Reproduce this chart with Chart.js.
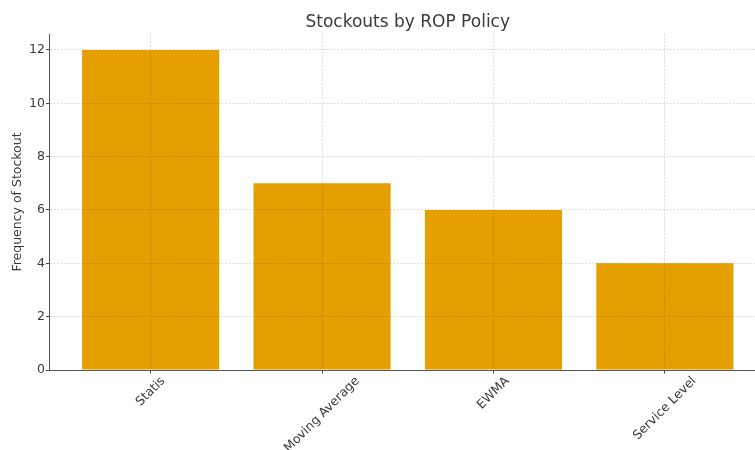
<!DOCTYPE html>
<html>
<head>
<meta charset="utf-8">
<script src="https://cdn.jsdelivr.net/npm/chart.js@4.4.1/dist/chart.umd.min.js"></script>
<style>
    html, body { margin: 0; padding: 0; background: #fff; overflow: hidden; }
    #wrap { width: 775px; height: 450px; }
</style>
</head>
<body>
<div id="wrap"><canvas id="stockoutChart"></canvas></div>
<script>
// === DATA ===
const policies = ["Statis", "Moving Average", "EWMA", "Service Level"];
const stockouts = [12, 7, 6, 4];
const yTicks = [0, 2, 4, 6, 8, 10, 12];

const FONT = "'DejaVu Sans', sans-serif";
const TEXT = "#3a3a3a";
const GRID = "rgba(0,0,0,0.14)";

// matplotlib centres rotated labels under the tick; Chart.js right-aligns them
const centerRotatedLabels = {
    id: "centerRotatedLabels",
    beforeDraw(chart) {
        const scale = chart.scales.x;
        const ctx = chart.ctx;
        scale.getLabelItems().forEach((item, i) => {
            ctx.save();
            ctx.font = item.font.string;
            const w = ctx.measureText(item.label).width;
            ctx.restore();
            const h = item.font.size * 1.15;
            const ext = (w + h) * Math.SQRT1_2;
            item.options.translation = [
                scale.getPixelForValue(i),
                scale.top + 4 + ext / 2,
            ];
            item.options.textAlign = "center";
            item.options.textBaseline = "middle";
            item.textOffset = 0;
        });
    },
};

new Chart(document.getElementById("stockoutChart"), {
    type: "bar",
    data: {
        datasets: [
            {
                data: policies.map((p, i) => ({ x: i, y: stockouts[i] })),
                backgroundColor: "#E69F00",
                borderWidth: 0,
                barPercentage: 0.8,
                categoryPercentage: 1.0,
            },
        ],
    },
    options: {
        responsive: true,
        maintainAspectRatio: false,
        animation: false,
        layout: { padding: { left: 0, right: 9, top: 0, bottom: 0 } },
        plugins: {
            legend: { display: false },
            tooltip: { enabled: false },
            title: {
                display: true,
                text: "Stockouts by ROP Policy",
                fullSize: false,
                color: TEXT,
                font: { family: FONT, size: 17, weight: "normal" },
                padding: { top: 12, bottom: 1.6 },
            },
        },
        scales: {
            x: {
                type: "linear",
                min: -0.59,
                max: 3.59,
                offset: false,
                afterBuildTicks: (s) => {
                    s.ticks = policies.map((p, i) => ({ value: i }));
                },
                afterFit: (s) => {
                    s.height = 80;
                },
                ticks: {
                    callback: (v) => policies[v],
                    maxRotation: 45,
                    minRotation: 45,
                    color: TEXT,
                    font: { family: FONT, size: 12.5 },
                    padding: 1,
                },
                grid: {
                    offset: false,
                    color: GRID,
                    lineWidth: 1,
                    tickLength: 3.5,
                    tickColor: "#444",
                    z: 1,
                },
                border: { display: true, color: "#555", width: 1, dash: [2, 1.5], z: 2 },
            },
            y: {
                min: 0,
                max: 12.6,
                afterBuildTicks: (s) => {
                    s.ticks = yTicks.map((v) => ({ value: v }));
                },
                afterFit: (s) => {
                    s.width = 49.5;
                },
                ticks: {
                    color: TEXT,
                    font: { family: FONT, size: 12.5 },
                    padding: 1,
                },
                grid: {
                    color: GRID,
                    lineWidth: 1,
                    tickLength: 3.5,
                    tickColor: "#444",
                    z: 1,
                },
                border: { display: true, color: "#555", width: 1, dash: [2, 1.5], z: 2 },
                title: {
                    display: true,
                    text: "Frequency of Stockout",
                    color: TEXT,
                    font: { family: FONT, size: 12.5 },
                    padding: { top: 10, bottom: 0 },
                },
            },
        },
    },
    plugins: [centerRotatedLabels],
});
</script>
</body>
</html>
